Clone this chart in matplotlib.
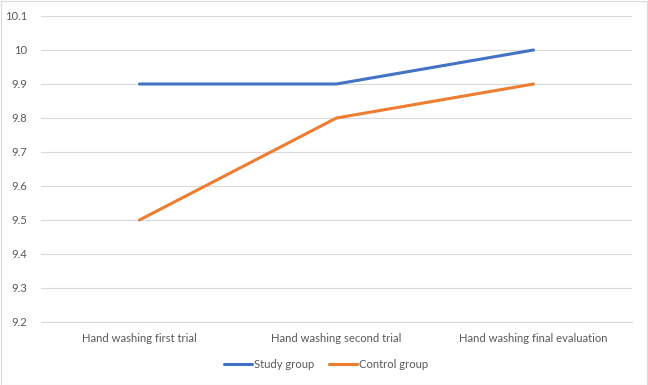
import matplotlib
matplotlib.use("Agg")
import matplotlib.pyplot as plt
from matplotlib.patches import Rectangle

categories = ['Hand washing first trial', 'Hand washing second trial', 'Hand washing final evaluation']
study_group = [9.9, 9.9, 10.0]
control_group = [9.5, 9.8, 9.9]

plt.rcParams['font.family'] = ['Lato', 'DejaVu Sans']
text_color = '#595959'
grid_color = '#d9d9d9'

fig = plt.figure(figsize=(6.48, 3.85), dpi=100)
ax = fig.add_axes([41 / 648, 1 - 322 / 385, (632 - 41) / 648, (322 - 16) / 385])

x = range(len(categories))
ax.plot(x, study_group, color='#4472C4', linewidth=2.2, label='Study group', solid_capstyle='round')
ax.plot(x, control_group, color='#ED7D31', linewidth=2.2, label='Control group', solid_capstyle='round')

ax.set_xlim(-0.5, len(categories) - 0.5)
ax.set_ylim(9.2, 10.1)
yt = [9.2, 9.3, 9.4, 9.5, 9.6, 9.7, 9.8, 9.9, 10.0, 10.1]
ax.set_yticks(yt)
ax.set_yticklabels(['%g' % v for v in yt])
ax.set_xticks(list(x))
ax.set_xticklabels(categories)
ax.tick_params(axis='both', length=0, labelsize=8.1, colors=text_color)
ax.tick_params(axis='y', pad=10)
ax.tick_params(axis='x', pad=8)
ax.grid(axis='y', color=grid_color, linewidth=0.8)
ax.set_axisbelow(True)
for s in ['top', 'right', 'left']:
    ax.spines[s].set_visible(False)
ax.spines['bottom'].set_color(grid_color)
ax.spines['bottom'].set_linewidth(0.8)

leg = fig.legend(loc='center', bbox_to_anchor=(326 / 648, 1 - 364 / 385), ncol=2,
                 frameon=False, fontsize=8.1, handlelength=2.5, columnspacing=1.3,
                 handletextpad=0.15)
for t in leg.get_texts():
    t.set_color(text_color)

fig.patches.append(Rectangle((0.5 / 648, 0.5 / 385), 1 - 1.5 / 648, 1 - 1.5 / 385,
                             transform=fig.transFigure, fill=False,
                             edgecolor='#d9d9d9', linewidth=0.8))

fig.savefig('out.png', dpi=100)
